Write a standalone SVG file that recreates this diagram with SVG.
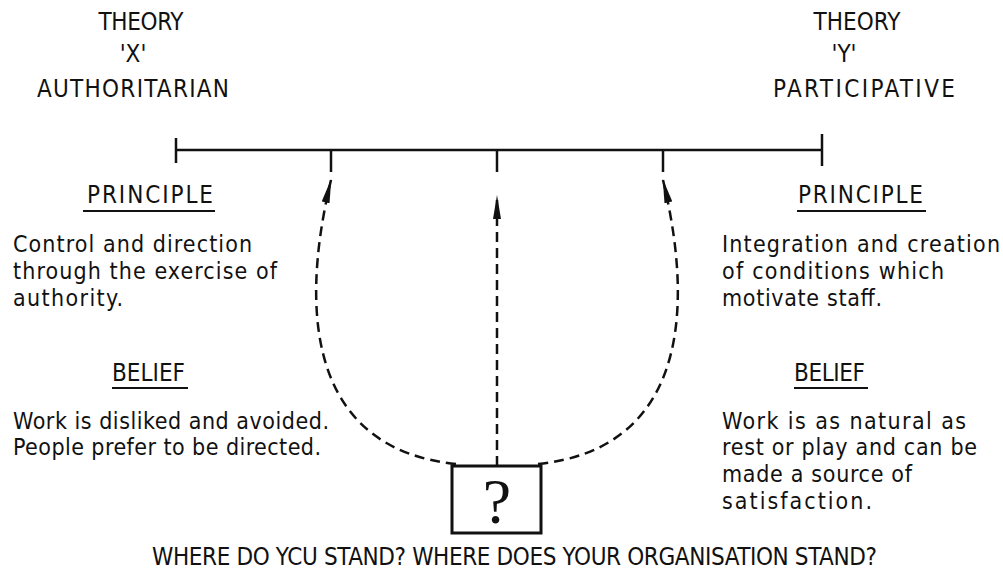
<svg xmlns="http://www.w3.org/2000/svg" width="1003" height="575" viewBox="0 0 1003 575">
<style>
.t{font-family:"DejaVu Sans Condensed","DejaVu Sans",sans-serif;font-stretch:condensed;font-size:23px;fill:#111}
.h{font-family:"DejaVu Sans Condensed","DejaVu Sans",sans-serif;font-stretch:condensed;font-size:24px;fill:#111;text-anchor:middle}
.k{font-size:24px}
.ln{stroke:#111;stroke-width:2.5;fill:none}
.ul{stroke:#111;stroke-width:1.8}
.dash{stroke:#111;stroke-width:2.5;fill:none;stroke-dasharray:10 6}
</style>
<defs>
<marker id="ah" viewBox="0 0 24 8" refX="23" refY="4" markerWidth="24" markerHeight="8" markerUnits="userSpaceOnUse" orient="auto">
<path d="M0,0 L24,4 L0,8 Z" fill="#111"/>
</marker>
</defs>
<rect width="1003" height="575" fill="#fff"/>
<g id="theory-x">
<text class="h" x="141" y="30" textLength="85">THEORY</text>
<text class="h" x="133" y="62">'X'</text>
<text class="h" x="133" y="97" textLength="192">AUTHORITARIAN</text>
</g>
<g id="theory-y">
<text class="h" x="857" y="30" textLength="87">THEORY</text>
<text class="h" x="844" y="62">'Y'</text>
<text class="h" x="864" y="97" textLength="182">PARTICIPATIVE</text>
</g>
<g id="scale">
<line class="ln" x1="176" y1="150" x2="822" y2="150"/>
<line class="ln" x1="176" y1="138" x2="176" y2="163"/>
<line class="ln" x1="822" y1="134" x2="822" y2="166"/>
<line class="ln" x1="331" y1="150" x2="331" y2="172"/>
<line class="ln" x1="497" y1="150" x2="497" y2="172"/>
<line class="ln" x1="663" y1="150" x2="663" y2="172"/>
</g>
<g id="left-text">
<text class="t k" x="87" y="203" textLength="126">PRINCIPLE</text>
<line class="ul" x1="83" y1="211" x2="215" y2="211"/>
<text class="t" x="13" y="252" textLength="239">Control and direction</text>
<text class="t" x="13" y="279" textLength="264">through the exercise of</text>
<text class="t" x="13" y="306" textLength="110">authority.</text>
<text class="t k" x="112" y="381" textLength="73">BELIEF</text>
<line class="ul" x1="112" y1="388" x2="188" y2="388"/>
<text class="t" x="13" y="429" textLength="316">Work is disliked and avoided.</text>
<text class="t" x="13" y="455" textLength="308">People prefer to be directed.</text>
</g>
<g id="right-text">
<text class="t k" x="798" y="203" textLength="125">PRINCIPLE</text>
<line class="ul" x1="797" y1="211" x2="926" y2="211"/>
<text class="t" x="722" y="252" textLength="278">Integration and creation</text>
<text class="t" x="722" y="279" textLength="222">of conditions which</text>
<text class="t" x="722" y="306" textLength="160">motivate staff.</text>
<text class="t k" x="794" y="381" textLength="71">BELIEF</text>
<line class="ul" x1="794" y1="388" x2="868" y2="388"/>
<text class="t" x="722" y="429" textLength="244">Work is as natural as</text>
<text class="t" x="722" y="455" textLength="255">rest or play and can be</text>
<text class="t" x="722" y="482" textLength="190">made a source of</text>
<text class="t" x="722" y="509" textLength="150">satisfaction.</text>
</g>
<g id="connectors">
<path class="dash" d="M456,464 C320,450 295,330 331,180" marker-end="url(#ah)"/>
<path class="dash" d="M538,464 C674,450 699,330 663,180" marker-end="url(#ah)"/>
<path class="dash" d="M497,466 L497,196" marker-end="url(#ah)"/>
</g>
<g id="question-box">
<rect x="452" y="466" width="89" height="67" fill="#fff" stroke="#111" stroke-width="3"/>
<text x="497" y="523" text-anchor="middle" font-family="Liberation Serif,Times New Roman,serif" font-size="64" fill="#111">?</text>
</g>
<g id="caption">
<text class="t k" x="152" y="565" textLength="725">WHERE DO YCU STAND? WHERE DOES YOUR ORGANISATION STAND?</text>
</g>
</svg>
